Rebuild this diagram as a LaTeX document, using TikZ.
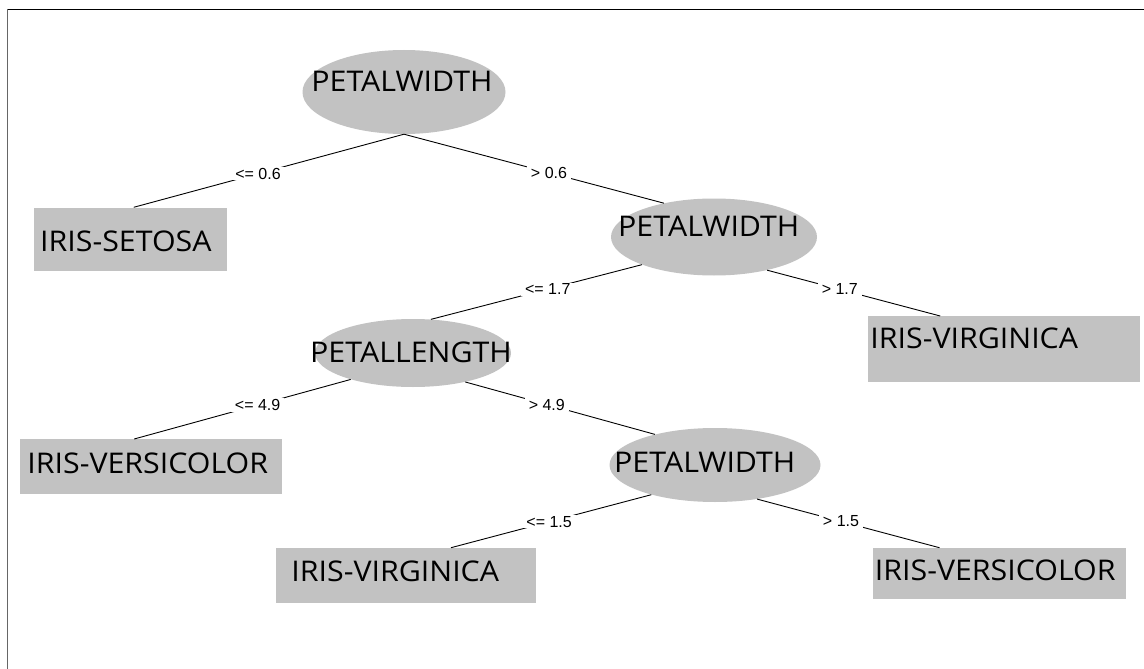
\documentclass[tikz,border=0pt]{standalone}
\usepackage{fontspec}
\newfontfamily\treefont[FakeStretch=1.065]{Open Sans}
\newfontfamily\condfont{Liberation Sans}
\usepackage{tikz}
\usetikzlibrary{shapes.geometric}
\definecolor{treegray}{RGB}{194,194,194}
\tikzset{
    split/.style = {ellipse, fill=treegray, inner sep=0pt},
    leaf/.style = {rectangle, fill=treegray, inner sep=0pt, anchor=north west},
    nlab/.style = {anchor=base west, inner sep=0pt, font=\treefont\fontsize{28.5}{30}\selectfont},
    cond/.style = {fill=white, inner xsep=4pt, inner ysep=1pt, font=\condfont\fontsize{16}{18}\selectfont},
    edge/.style = {draw=black, line width=0.9pt}
}

\begin{document}
\begin{tikzpicture}[x=1pt, y=-1pt]
    \useasboundingbox (0,0) rectangle (1144,669);
    \draw[line width=1pt] (7,9.5) -- (1144,9.5);
    \draw[black!60, line width=1.5pt] (7.5,9) -- (7.5,669);

    \node[split, minimum width=203pt, minimum height=84pt] (root) at (404,92) {};
    \node[split, minimum width=206pt, minimum height=77pt] (pw2) at (714,237) {};
    \node[split, minimum width=196pt, minimum height=68pt] (pl) at (413,353) {};
    \node[split, minimum width=211pt, minimum height=74pt] (pw3) at (715,465) {};
    \node[leaf, minimum width=193pt, minimum height=63.5pt] (setosa) at (34,207.3) {};
    \node[leaf, minimum width=272pt, minimum height=65.7pt] (virg1) at (868,316) {};
    \node[leaf, minimum width=262pt, minimum height=55pt] (vers1) at (20,439) {};
    \node[leaf, minimum width=259.6pt, minimum height=55.3pt] (virg2) at (276,547.7) {};
    \node[leaf, minimum width=253.5pt, minimum height=51.3pt] (vers2) at (872.5,547.7) {};

    \node[nlab] (root-t) at (311.2,91.7) {PETALWIDTH};
    \node[nlab] (pw2-t) at (618,236.7) {PETALWIDTH};
    \node[nlab] (pl-t) at (310,362.7) {PETALLENGTH};
    \node[nlab] (pw3-t) at (614,472.3) {PETALWIDTH};
    \node[nlab] (setosa-t) at (40,251.7) {IRIS-SETOSA};
    \node[nlab] (virg1-t) at (870.2,348.3) {IRIS-VIRGINICA};
    \node[nlab] (vers1-t) at (27.2,473) {IRIS-VERSICOLOR};
    \node[nlab] (virg2-t) at (291.2,581.7) {IRIS-VIRGINICA};
    \node[nlab] (vers2-t) at (874.7,580) {IRIS-VERSICOLOR};

    \draw[edge] (root.south) -- node[cond, pos=.54] (c1) {<= 0.6} ([xshift=3pt]setosa.north);
    \draw[edge] (root.south) -- node[cond, pos=.558] (c2) {> 0.6} (pw2.146);
    \draw[edge] (pw2.201) -- node[cond, pos=.446] (c3) {<= 1.7} (pl.62);
    \draw[edge] (pw2.328) -- node[cond, pos=.42] (c4) {> 1.7} ([xshift=-64pt]virg1.north);
    \draw[edge] (pl.203) -- node[cond, pos=.43] (c5) {<= 4.9} ([xshift=-17pt]vers1.north);
    \draw[edge] (pl.331) -- node[cond, pos=.43] (c6) {> 4.9} (pw3.153);
    \draw[edge] (pw3.205) -- node[cond, pos=.51] (c7) {<= 1.5} ([xshift=45pt]virg2.north);
    \draw[edge] (pw3.321) -- node[cond, pos=.46] (c8) {> 1.5} ([xshift=-60pt]vers2.north);
\end{tikzpicture}
\end{document}
